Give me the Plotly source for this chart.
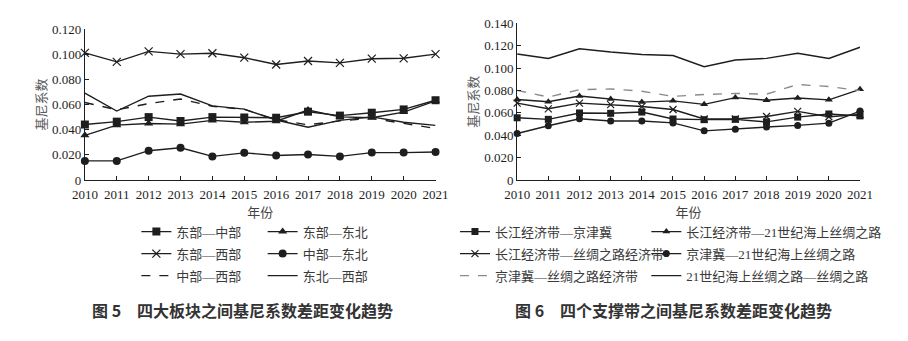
import plotly.graph_objects as go

W, H = 908, 341

YEARS = list(range(2010, 2022))

# Figure 5: Gini gap between the four major regions
EAST_CENTRAL = [0.0441, 0.0464, 0.0500, 0.0469, 0.0500, 0.0497, 0.0495, 0.0543, 0.0512, 0.0535, 0.0561, 0.0634]
EAST_NE = [0.0355, 0.0436, 0.0449, 0.0444, 0.0474, 0.0459, 0.0467, 0.0556, 0.0502, 0.0495, 0.0540, 0.0629]
EAST_WEST = [0.1010, 0.0939, 0.1022, 0.1000, 0.1007, 0.0972, 0.0918, 0.0946, 0.0931, 0.0964, 0.0967, 0.1000]
CENTRAL_NE = [0.0152, 0.0152, 0.0233, 0.0256, 0.0188, 0.0216, 0.0195, 0.0203, 0.0188, 0.0218, 0.0218, 0.0223]
CENTRAL_WEST = [0.0616, 0.0558, 0.0607, 0.0644, 0.0586, 0.0561, 0.0480, 0.0439, 0.0470, 0.0490, 0.0450, 0.0410]
NE_WEST = [0.0690, 0.0548, 0.0666, 0.0683, 0.0589, 0.0563, 0.0477, 0.0419, 0.0474, 0.0502, 0.0459, 0.0434]

# Figure 6: Gini gap between the four supporting belts
YANGTZE_JJJ = [0.0556, 0.0542, 0.0599, 0.0596, 0.0607, 0.0545, 0.0539, 0.0542, 0.0519, 0.0562, 0.0590, 0.0573]
YANGTZE_MSR = [0.0719, 0.0699, 0.0750, 0.0724, 0.0696, 0.0707, 0.0676, 0.0736, 0.0713, 0.0733, 0.0716, 0.0810]
YANGTZE_SREB = [0.0687, 0.0636, 0.0687, 0.0673, 0.0656, 0.0630, 0.0545, 0.0545, 0.0567, 0.0613, 0.0565, 0.0585]
JJJ_MSR = [0.0416, 0.0485, 0.0547, 0.0527, 0.0527, 0.0510, 0.0439, 0.0453, 0.0473, 0.0488, 0.0508, 0.0616]
JJJ_SREB = [0.0801, 0.0741, 0.0807, 0.0813, 0.0793, 0.0747, 0.0764, 0.0773, 0.0767, 0.0853, 0.0835, 0.0798]
MSR_SR = [0.1126, 0.1086, 0.1172, 0.1143, 0.1121, 0.1112, 0.1012, 0.1072, 0.1086, 0.1132, 0.1086, 0.1186]

Y_TICKS_5 = [0, 0.02, 0.04, 0.06, 0.08, 0.10, 0.12]
Y_TEXT_5 = ["0", "0.020", "0.040", "0.060", "0.080", "0.100", "0.120"]
Y_TICKS_6 = [0, 0.02, 0.04, 0.06, 0.08, 0.10, 0.12, 0.14]
Y_TEXT_6 = ["0", "0.020", "0.040", "0.060", "0.080", "0.100", "0.120", "0.140"]

INK = "#1e1e1e"
SERIF = "Liberation Serif, 'Noto Sans CJK SC', serif"
CJK = "'Noto Sans CJK SC', sans-serif"


def px_x(v):
    return v / W


def px_y(v):
    return 1 - v / H


fig = go.Figure()

# (name, values, marker symbol, dash, colour, axis suffix, legend position in px, marker size)
series = [
    ("东部—中部", EAST_CENTRAL, "square", "solid", INK, "", (127, 235), 8),
    ("东部—东北", EAST_NE, "triangle-up", "solid", INK, "", (257, 235), 8),
    ("东部—西部", EAST_WEST, "x-thin", "solid", INK, "", (127, 258), 8),
    ("中部—东北", CENTRAL_NE, "circle", "solid", INK, "", (257, 258), 8),
    ("中部—西部", CENTRAL_WEST, None, "dash", INK, "", (127, 281), 0),
    ("东北—西部", NE_WEST, None, "solid", INK, "", (257, 281), 0),
    ("长江经济带—京津冀", YANGTZE_JJJ, "square", "solid", INK, "2", (455, 235), 7),
    ("长江经济带—21世纪海上丝绸之路", YANGTZE_MSR, "triangle-up", "solid", INK, "2", (652, 235), 7),
    ("长江经济带—丝绸之路经济带", YANGTZE_SREB, "x-thin", "solid", INK, "2", (455, 258), 7),
    ("京津冀—21世纪海上丝绸之路", JJJ_MSR, "circle", "solid", INK, "2", (652, 258), 7),
    ("京津冀—丝绸之路经济带", JJJ_SREB, None, "dash", "#8a8a8a", "2", (455, 281), 0),
    ("21世纪海上丝绸之路—丝绸之路", MSR_SR, None, "solid", INK, "2", (652, 281), 0),
]

legend_layouts = {}
for i, (name, vals, sym, dash, color, ax, (lx, ly), msize) in enumerate(series):
    leg = "legend" if i == 0 else f"legend{i + 1}"
    kw = dict(
        x=YEARS, y=vals, name=name,
        xaxis="x" + ax, yaxis="y" + ax,
        line=dict(color=color, width=1.4, dash=dash),
        cliponaxis=False, legend=leg,
    )
    if sym:
        kw["mode"] = "lines+markers"
        kw["marker"] = dict(symbol=sym, size=msize, color=color,
                            line=dict(color=color, width=1.2 if sym == "x-thin" else 0))
    else:
        kw["mode"] = "lines"
    fig.add_trace(go.Scatter(**kw))
    legend_layouts[leg] = dict(
        x=px_x(lx), y=px_y(ly), xanchor="left", yanchor="middle",
        bgcolor="rgba(0,0,0,0)", borderwidth=0,
        font=dict(family=SERIF, size=13, color="#3a3a3a"),
        itemwidth=30,
    )

axis_common = dict(
    showgrid=False, zeroline=False, showline=True, linecolor=INK, linewidth=1,
    ticks="inside", ticklen=4, tickcolor=INK, tickwidth=1,
    tickfont=dict(family=SERIF, size=13, color=INK),
)
x_title = dict(text="年份", font=dict(family=CJK, size=13, color="#444444"), standoff=3)
y_title = dict(text="基尼系数", font=dict(family=CJK, size=13, color="#5a5a5a"), standoff=2)

fig.update_layout(
    width=W, height=H,
    margin=dict(l=0, r=0, t=0, b=0),
    paper_bgcolor="white", plot_bgcolor="white",
    showlegend=True,
    xaxis=dict(domain=[px_x(74), px_x(435)], range=[2010, 2021], tickvals=YEARS,
               anchor="y", title=x_title, ticklabelstandoff=2, **axis_common),
    yaxis=dict(domain=[px_y(181), px_y(23)], range=[0, 0.12], tickvals=Y_TICKS_5,
               ticktext=Y_TEXT_5, anchor="x", title=y_title, **axis_common),
    xaxis2=dict(domain=[px_x(519), px_x(872)], range=[2010, 2021], tickvals=YEARS,
                anchor="y2", title=x_title, ticklabelstandoff=2, **axis_common),
    yaxis2=dict(domain=[px_y(181), px_y(17)], range=[0, 0.14], tickvals=Y_TICKS_6,
                ticktext=Y_TEXT_6, anchor="x2", title=y_title, **axis_common),
    **legend_layouts,
)

# Figure captions
captions = [
    ("图 5　四大板块之间基尼系数差距变化趋势", 236, 317),
    ("图 6　四个支撑带之间基尼系数差距变化趋势", 680, 317),
]
for t, x, y in captions:
    fig.add_annotation(
        text=f"<b>{t}</b>",
        x=px_x(x), y=px_y(y), xref="paper", yref="paper",
        xanchor="center", yanchor="middle", showarrow=False,
        font=dict(family=CJK, size=16, color="#333333"),
    )

fig.write_html("out.html")
